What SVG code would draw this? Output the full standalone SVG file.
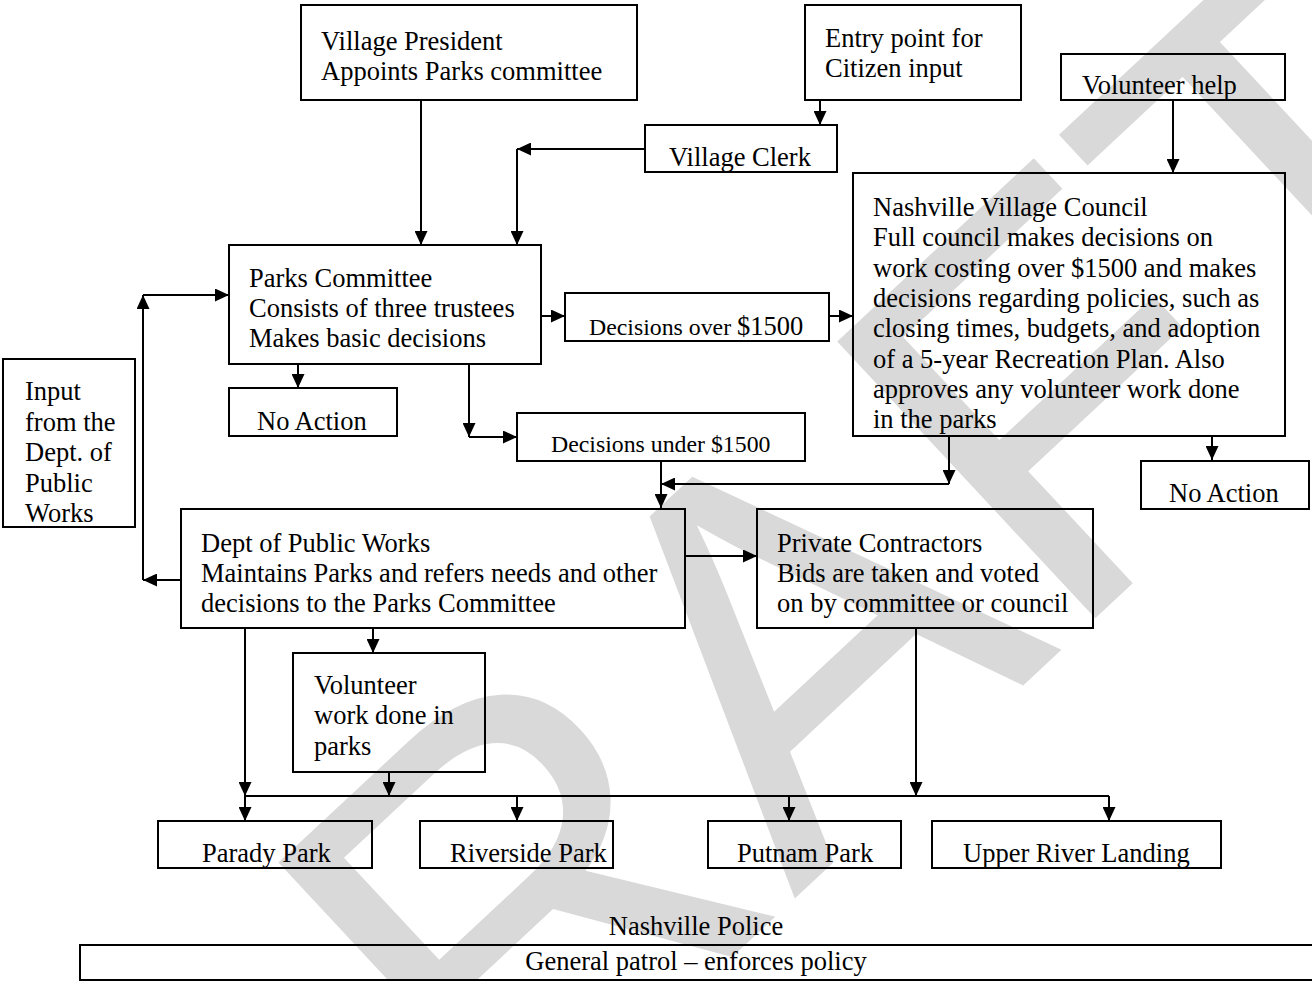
<svg xmlns="http://www.w3.org/2000/svg" width="1312" height="981" viewBox="0 0 1312 981">
<defs>
<marker id="ah" markerUnits="userSpaceOnUse" markerWidth="14" markerHeight="13" refX="14" refY="6.5" orient="auto">
<path d="M0,0 L14,6.5 L0,13 Z" fill="#000"/>
</marker>
<style>
.box{fill:none;stroke:#000;stroke-width:2}
.t{font-family:"Liberation Serif","Times New Roman",serif;font-size:26.5px;fill:#000}
.s{font-size:23.8px}
.c{stroke:#000;stroke-width:2;fill:none;marker-end:url(#ah)}
.l{stroke:#000;stroke-width:2;fill:none}
.wm{font-family:"Liberation Sans",Arial,sans-serif;font-size:550px;fill:#d9d9d9}
</style>
</defs>
<rect width="1312" height="981" fill="#fff"/>
<g id="watermark"><text class="wm" transform="translate(213,1441) rotate(-43)" x="0" y="0">DRAFT</text></g>
<g id="connectors">
<path class="c" d="M421,100 V245"/>
<path class="c" d="M820,100 V125"/>
<path class="c" d="M645,149 H517"/>
<path class="c" d="M517,149 V245"/>
<path class="c" d="M1173,100 V173"/>
<path class="c" d="M541,316 H565"/>
<path class="c" d="M829,316 H853"/>
<path class="c" d="M298,364 V388"/>
<path class="c" d="M469,364 V437"/>
<path class="c" d="M469,437 H517"/>
<path class="c" d="M949,436 V484"/>
<path class="c" d="M949,484 H661"/>
<path class="c" d="M661,461 V508"/>
<path class="c" d="M1212,436 V460"/>
<path class="c" d="M685,556 H757"/>
<path class="c" d="M181,580 H143"/>
<path class="c" d="M143,580 V295"/>
<path class="c" d="M143,295 H229"/>
<path class="c" d="M373,628 V653"/>
<path class="c" d="M245,628 V796"/>
<path class="c" d="M389,772 V796"/>
<path class="c" d="M916,628 V796"/>
<path class="l" d="M245,796 H1109"/>
<path class="c" d="M245,796 V821"/>
<path class="c" d="M517,796 V821"/>
<path class="c" d="M789,796 V821"/>
<path class="c" d="M1109,796 V821"/>
</g>
<g id="vp"><rect class="box" x="301" y="5" width="336" height="95"/><text class="t" x="321" y="50">Village President</text><text class="t" x="321" y="80">Appoints Parks committee</text></g>
<g id="entry"><rect class="box" x="805" y="5" width="216" height="95"/><text class="t" x="825" y="47">Entry point for</text><text class="t" x="825" y="77">Citizen input</text></g>
<g id="volhelp"><rect class="box" x="1061" y="54" width="224" height="46"/><text class="t" x="1082" y="94">Volunteer help</text></g>
<g id="clerk"><rect class="box" x="645" y="125" width="192" height="47"/><text class="t" x="669" y="166">Village Clerk</text></g>
<g id="parks"><rect class="box" x="229" y="245" width="312" height="119"/><text class="t" x="249" y="287">Parks Committee</text><text class="t" x="249" y="317">Consists of three trustees</text><text class="t" x="249" y="347">Makes basic decisions</text></g>
<g id="over"><rect class="box" x="565" y="293" width="264" height="48"/><text class="t" x="589" y="335"><tspan class="s">Decisions over </tspan>$1500</text></g>
<g id="council"><rect class="box" x="853" y="173" width="432" height="263"/>
<text class="t" x="873" y="216">Nashville Village Council</text>
<text class="t" x="873" y="246.3">Full council makes decisions on</text>
<text class="t" x="873" y="276.6">work costing over $1500 and makes</text>
<text class="t" x="873" y="306.9">decisions regarding policies, such as</text>
<text class="t" x="873" y="337.2">closing times, budgets, and adoption</text>
<text class="t" x="873" y="367.5">of a 5-year Recreation Plan. Also</text>
<text class="t" x="873" y="397.8">approves any volunteer work done</text>
<text class="t" x="873" y="428.1">in the parks</text></g>
<g id="noaction1"><rect class="box" x="229" y="388" width="168" height="48"/><text class="t" x="257" y="430">No Action</text></g>
<g id="under"><rect class="box" x="517" y="413" width="288" height="48"/><text class="t s" x="551" y="452">Decisions under $1500</text></g>
<g id="noaction2"><rect class="box" x="1141" y="461" width="168" height="48"/><text class="t" x="1169" y="502">No Action</text></g>
<g id="input"><rect class="box" x="3" y="359" width="132" height="168"/>
<text class="t" x="25" y="400">Input</text><text class="t" x="25" y="430.5">from the</text><text class="t" x="25" y="461">Dept. of</text><text class="t" x="25" y="491.5">Public</text><text class="t" x="25" y="522">Works</text></g>
<g id="dpw"><rect class="box" x="181" y="509" width="504" height="119"/><text class="t" x="201" y="552">Dept of Public Works</text><text class="t" x="201" y="582">Maintains Parks and refers needs and other</text><text class="t" x="201" y="612">decisions to the Parks Committee</text></g>
<g id="private"><rect class="box" x="757" y="509" width="336" height="119"/><text class="t" x="777" y="552">Private Contractors</text><text class="t" x="777" y="582">Bids are taken and voted</text><text class="t" x="777" y="612">on by committee or council</text></g>
<g id="volwork"><rect class="box" x="293" y="653" width="192" height="119"/><text class="t" x="314" y="694">Volunteer</text><text class="t" x="314" y="724.3">work done in</text><text class="t" x="314" y="754.6">parks</text></g>
<g id="parady"><rect class="box" x="158" y="821" width="214" height="47"/><text class="t" x="202" y="862">Parady Park</text></g>
<g id="riverside"><rect class="box" x="420" y="821" width="193" height="47"/><text class="t" x="450" y="862">Riverside Park</text></g>
<g id="putnam"><rect class="box" x="708" y="821" width="193" height="47"/><text class="t" x="737" y="862">Putnam Park</text></g>
<g id="upper"><rect class="box" x="932" y="821" width="289" height="47"/><text class="t" x="963" y="862">Upper River Landing</text></g>
<g id="police"><text class="t" x="696" y="935" text-anchor="middle">Nashville Police</text></g>
<g id="patrol"><rect class="box" x="80" y="945" width="1240" height="35"/><text class="t" x="696" y="970" text-anchor="middle">General patrol – enforces policy</text></g>
</svg>
